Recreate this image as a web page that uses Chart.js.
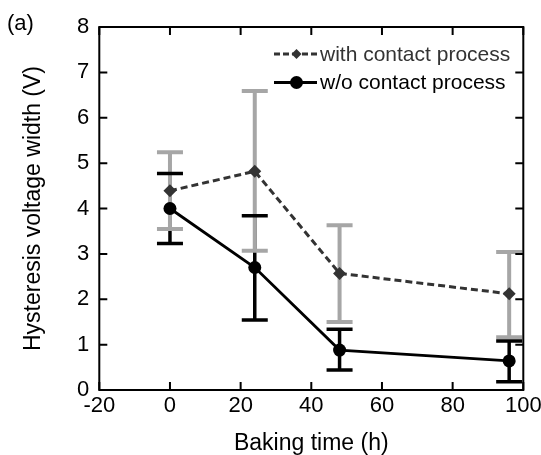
<!DOCTYPE html>
<html>
<head>
<meta charset="utf-8">
<script src="https://cdn.jsdelivr.net/npm/chart.js@4.4.1/dist/chart.umd.min.js"></script>
<style>
  html, body { margin: 0; padding: 0; background: #fff; }
  #wrap { width: 541px; height: 455px; position: relative; }
</style>
</head>
<body>
<div id="wrap"><canvas id="chart"></canvas></div>
<script>
// --- data ---
const bakingHours = [0, 24, 48, 96];

const withContact     = [4.39, 4.82, 2.57, 2.12];
const withContactHigh = [5.24, 6.59, 3.63, 3.04];
const withContactLow  = [3.55, 3.07, 1.50, 1.16];

const withoutContact     = [4.00, 2.70, 0.88, 0.64];
const withoutContactHigh = [4.77, 3.84, 1.34, 1.08];
const withoutContactLow  = [3.23, 1.54, 0.44, 0.18];

const xTicks = [-20, 0, 20, 40, 60, 80, 100];
const yTicks = [0, 1, 2, 3, 4, 5, 6, 7, 8];

const seriesNames = ["with contact process", "w/o contact process"];
const panelLabel = "(a)";

const FONT = "'Liberation Sans', Arial, sans-serif";
const GRAY = "#a6a6a6";
const DARK = "#333333";

function toPoints(xs, ys) {
  return xs.map((x, i) => ({ x: x, y: ys[i] }));
}

// error bars drawn through the chart scales
// order: black stems, gray stems + caps, black caps
const errorBars = {
  id: "errorBars",
  beforeDatasetsDraw(chart) {
    const { ctx, scales: { x, y } } = chart;
    const gray = chart.data.datasets[0];
    const black = chart.data.datasets[1];

    function draw(ds, stems, caps) {
      ctx.strokeStyle = ds.errColor;
      ctx.lineWidth = ds.errWidth;
      const half = ds.capHalf;
      ds.data.forEach((p, i) => {
        const px = x.getPixelForValue(p.x);
        const hi = y.getPixelForValue(ds.errHigh[i]);
        const lo = y.getPixelForValue(ds.errLow[i]);
        ctx.beginPath();
        if (stems) { ctx.moveTo(px, hi); ctx.lineTo(px, lo); }
        if (caps) {
          ctx.moveTo(px - half, hi); ctx.lineTo(px + half, hi);
          ctx.moveTo(px - half, lo); ctx.lineTo(px + half, lo);
        }
        ctx.stroke();
      });
    }

    ctx.save();
    draw(black, true, false);
    draw(gray, true, true);
    draw(black, false, true);
    ctx.restore();
  }
};

// frame with inward ticks, panel label and in-plot legend
const frame = {
  id: "frame",
  afterDraw(chart) {
    const { ctx, chartArea: a, scales: { x, y } } = chart;
    ctx.save();
    ctx.strokeStyle = "#000";
    ctx.lineWidth = 2;
    ctx.strokeRect(a.left, a.top, a.right - a.left, a.bottom - a.top);
    ctx.beginPath();
    xTicks.forEach(v => {
      const px = x.getPixelForValue(v);
      ctx.moveTo(px, a.bottom); ctx.lineTo(px, a.bottom - 8);
      ctx.moveTo(px, a.top); ctx.lineTo(px, a.top + 8);
    });
    yTicks.forEach(v => {
      const py = y.getPixelForValue(v);
      ctx.moveTo(a.right, py); ctx.lineTo(a.right - 8, py);
      ctx.moveTo(a.left, py); ctx.lineTo(a.left + 8, py);
    });
    ctx.stroke();

    ctx.fillStyle = "#000";
    ctx.font = "22px " + FONT;
    ctx.textBaseline = "middle";
    ctx.textAlign = "left";
    ctx.fillText(panelLabel, 7, 24);

    // legend
    ctx.font = "21px " + FONT;
    const lx0 = 274, lx1 = 317, tx = 320;
    const cx = 296.5;
    const rows = [54, 82.5];
    // row 1: dashed line + diamond
    ctx.strokeStyle = DARK;
    ctx.lineWidth = 3;
    ctx.setLineDash([6, 3]);
    ctx.beginPath(); ctx.moveTo(lx0, rows[0]); ctx.lineTo(cx - 3, rows[0]); ctx.stroke();
    ctx.beginPath(); ctx.moveTo(lx1, rows[0]); ctx.lineTo(cx + 3, rows[0]); ctx.stroke();
    ctx.setLineDash([]);
    ctx.fillStyle = DARK;
    ctx.beginPath();
    ctx.moveTo(cx, rows[0] - 5); ctx.lineTo(cx + 5, rows[0]);
    ctx.lineTo(cx, rows[0] + 5); ctx.lineTo(cx - 5, rows[0]);
    ctx.closePath(); ctx.fill();
    ctx.fillText(seriesNames[0], tx, rows[0] + 1);
    // row 2: solid line + circle
    ctx.strokeStyle = "#000";
    ctx.lineWidth = 3;
    ctx.beginPath(); ctx.moveTo(lx0, rows[1]); ctx.lineTo(lx1, rows[1]); ctx.stroke();
    ctx.fillStyle = "#000";
    ctx.beginPath(); ctx.arc(cx, rows[1], 6.5, 0, Math.PI * 2); ctx.fill();
    ctx.fillText(seriesNames[1], tx, rows[1] + 1);
    ctx.restore();
  }
};

new Chart(document.getElementById("chart"), {
  type: "line",
  data: {
    datasets: [
      {
        label: seriesNames[0],
        data: toPoints(bakingHours, withContact),
        errHigh: withContactHigh,
        errLow: withContactLow,
        errColor: GRAY,
        errWidth: 4,
        capHalf: 13,
        borderColor: DARK,
        borderWidth: 3,
        borderDash: [7, 4],
        pointStyle: "rectRot",
        pointRadius: 6.5,
        pointBackgroundColor: DARK,
        pointBorderWidth: 0,
        tension: 0
      },
      {
        label: seriesNames[1],
        data: toPoints(bakingHours, withoutContact),
        errHigh: withoutContactHigh,
        errLow: withoutContactLow,
        errColor: "#000",
        errWidth: 3.5,
        capHalf: 13,
        borderColor: "#000",
        borderWidth: 2.8,
        pointStyle: "circle",
        pointRadius: 6.5,
        pointBackgroundColor: "#000",
        pointBorderWidth: 0,
        tension: 0
      }
    ]
  },
  options: {
    responsive: true,
    maintainAspectRatio: false,
    animation: false,
    events: [],
    layout: { padding: { left: 0, right: 17.7, top: 27, bottom: 0 } },
    plugins: { legend: { display: false }, tooltip: { enabled: false } },
    scales: {
      x: {
        type: "linear",
        min: -20, max: 100,
        grid: { display: false, drawTicks: false },
        border: { display: false },
        afterBuildTicks(s) { s.ticks = xTicks.map(v => ({ value: v })); },
        ticks: { color: "#000", font: { size: 22, family: FONT }, padding: 3, maxRotation: 0 },
        title: { display: true, text: "Baking time (h)", color: "#000", font: { size: 23, family: FONT, lineHeight: 1 }, padding: { top: 0, bottom: 0 } },
        afterFit(s) { s.height = 65; s.paddingLeft = 0; s.paddingRight = 0; }
      },
      y: {
        min: 0, max: 8,
        grid: { display: false, drawTicks: false },
        border: { display: false },
        afterBuildTicks(s) { s.ticks = yTicks.map(v => ({ value: v })); },
        ticks: { color: "#000", font: { size: 22, family: FONT }, padding: 10 },
        title: { display: true, text: "Hysteresis voltage width (V)", color: "#000", font: { size: 23, family: FONT, lineHeight: 1 }, padding: { top: 22, bottom: 0 } },
        afterFit(s) { s.width = 99.3; s.paddingTop = 0; s.paddingBottom = 0; }
      }
    }
  },
  plugins: [errorBars, frame]
});
</script>
</body>
</html>
